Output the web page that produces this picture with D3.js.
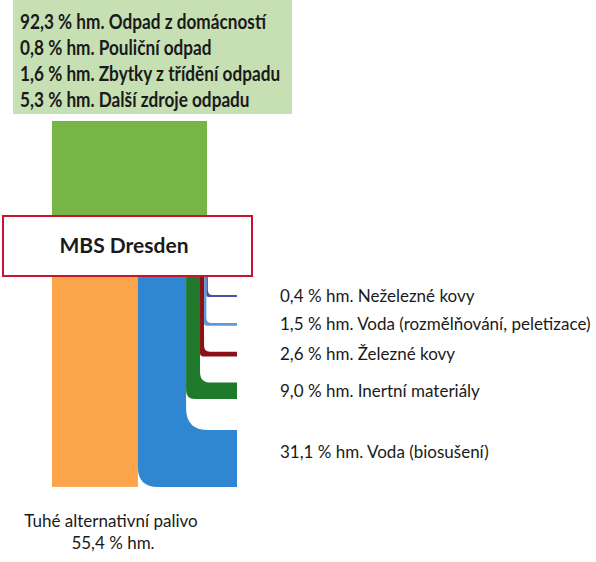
<!DOCTYPE html>
<html>
<head>
<meta charset="utf-8">
<script src="https://cdn.jsdelivr.net/npm/d3@7/dist/d3.min.js"></script>
<style>
  html, body { margin: 0; padding: 0; background: #fff; }
  text { font-family: Lato, "Open Sans", sans-serif; fill: #1a1a1a; }
</style>
</head>
<body>
<div id="chart"></div>
<script>
// input streams (% hm.)
var inputNames = ["Odpad z domácností", "Pouliční odpad", "Zbytky z třídění odpadu", "Další zdroje odpadu"];
var inputValues = [92.3, 0.8, 1.6, 5.3];

// output streams, left to right as they leave the plant
var outputNames = ["Tuhé alternativní palivo", "Voda (biosušení)", "Inertní materiály", "Železné kovy", "Voda (rozmělňování, peletizace)", "Neželezné kovy"];
var outputValues = [55.4, 31.1, 9.0, 2.6, 1.5, 0.4];

var plantName = "MBS Dresden";
var unit = "% hm.";

// colours per output, same order as outputNames
var outputColors = ["#fba449", "#2f87d2", "#1f7a2c", "#8c1016", "#5b9bd5", "#4354a3"];

var width = 596, height = 562;

var cz = d3.formatLocale({decimal: ",", thousands: " ", grouping: [3], currency: ["", ""]});
var fmt = cz.format(".1f");

var svg = d3.select("#chart").append("svg")
    .attr("width", width)
    .attr("height", height);

svg.append("rect").attr("width", width).attr("height", height).attr("fill", "#fff");

// horizontal share of the stream width, and vertical thickness of a turned band
var x = d3.scaleLinear().domain([0, 100]).range([52, 207]);
var thick = d3.scaleLinear().domain([0, 100]).range([0, 183]);

var boxTop = 216, boxBottom = 276;
var endX = 237;

// top legend box with the inputs
svg.append("rect")
    .attr("x", 13).attr("y", 0)
    .attr("width", 279).attr("height", 114)
    .attr("fill", "#c6e0b3");

// narrow bold text, like the original's Calibri
var legend = svg.append("g").attr("transform", "translate(20,0) scale(0.86,1)");
legend.selectAll(".inlabel")
    .data(inputValues)
    .enter().append("text")
    .attr("class", "inlabel")
    .attr("x", 0)
    .attr("y", function(d, i) { return 29 + i * 26; })
    .style("font-size", "20px")
    .style("font-weight", "bold")
    .text(function(d, i) { return fmt(d) + " % hm. " + inputNames[i]; });

// input stream
svg.append("rect")
    .attr("x", x(0)).attr("y", 121)
    .attr("width", x(d3.sum(inputValues)) - x(0))
    .attr("height", boxTop - 121)
    .attr("fill", "#77b546");

// stack the outputs: cumulative left edges
var cum = [];
var acc = 0;
outputValues.forEach(function(v) { cum.push(acc); acc += v; });

// turned bands stacked from the top (last output first)
var gap = 26, bandTop = 295;
var bands = [];
for (var i = outputValues.length - 1; i >= 1; i--) {
  var t = Math.max(2, thick(outputValues[i]));
  bands[i] = {top: bandTop, bottom: bandTop + t};
  bandTop += t + (i === 2 ? gap + 5 : gap);
}
var bottomY = bands[1].bottom;

// first output goes straight down
svg.append("rect")
    .attr("x", x(cum[0]))
    .attr("y", boxBottom)
    .attr("width", x(cum[0] + outputValues[0]) - x(cum[0]))
    .attr("height", bottomY - boxBottom)
    .attr("fill", outputColors[0]);

// the others bend to the right
var flows = outputValues.map(function(v, i) { return i; }).slice(1);

svg.selectAll(".flow")
    .data(flows)
    .enter().append("path")
    .attr("class", "flow")
    .attr("fill", function(i) { return outputColors[i]; })
    .attr("d", function(i) {
      var x0 = x(cum[i]);
      var x1 = Math.max(x0 + 1.5, x(cum[i] + outputValues[i]));
      var b = bands[i];
      var ri = Math.min(22, (b.bottom - b.top) * 0.4 + 4);
      var ro = Math.min(20, (x1 - x0) * 0.4 + ri * 0.3);
      return "M" + x0 + "," + boxBottom +
        "L" + x0 + "," + (b.bottom - ro) +
        "Q" + x0 + "," + b.bottom + " " + (x0 + ro) + "," + b.bottom +
        "L" + endX + "," + b.bottom +
        "L" + endX + "," + b.top +
        "L" + (x1 + ri) + "," + b.top +
        "Q" + x1 + "," + b.top + " " + x1 + "," + (b.top - ri) +
        "L" + x1 + "," + boxBottom + "Z";
    });

// output labels on the right
svg.selectAll(".outlabel")
    .data(flows)
    .enter().append("text")
    .attr("class", "outlabel")
    .attr("x", 280)
    .attr("y", function(i) {
      var c = (bands[i].top + bands[i].bottom) / 2;
      return (i === 1 ? c - 6 : c) + 6;
    })
    .style("font-size", "17px")
    .text(function(i) { return fmt(outputValues[i]) + " % hm. " + outputNames[i]; });

// label under the main product
var bottomLabel = svg.append("text")
    .attr("x", 111)
    .attr("y", 527)
    .attr("text-anchor", "middle")
    .style("font-size", "17px");
bottomLabel.append("tspan").attr("x", 111).text(outputNames[0]);
bottomLabel.append("tspan").attr("x", 113).attr("dy", 22).text(fmt(outputValues[0]) + " " + unit);

// the plant box
svg.append("rect")
    .attr("x", 3).attr("y", boxTop)
    .attr("width", 249).attr("height", boxBottom - boxTop)
    .attr("fill", "#fff")
    .attr("stroke", "#c8142e")
    .attr("stroke-width", 2);

svg.append("text")
    .attr("x", 124)
    .attr("y", 253)
    .attr("text-anchor", "middle")
    .style("font-size", "21px")
    .style("font-weight", "bold")
    .text(plantName);
</script>
</body>
</html>
